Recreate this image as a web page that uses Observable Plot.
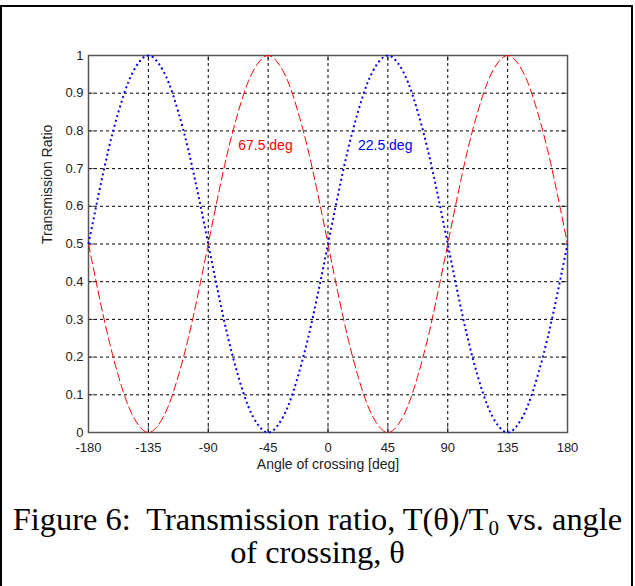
<!DOCTYPE html>
<html>
<head>
<meta charset="utf-8">
<script src="https://cdn.jsdelivr.net/npm/d3@7"></script>
<script src="https://cdn.jsdelivr.net/npm/@observablehq/plot@0.6"></script>
<style>
  html, body { margin: 0; padding: 0; background: #fff; }
  #wrap { position: relative; width: 635px; height: 586px; overflow: hidden; }
  #border { position: absolute; left: 0; top: 5px; width: 629px; height: 600px;
            border-top: 2px solid #000; border-left: 2px solid #000; border-right: 2px solid #000; }
  #chart { position: absolute; left: 0; top: 0; }
  #caption { position: absolute; left: 0; top: 503px; width: 635px; text-align: center;
             font-family: "Liberation Serif", "Times New Roman", serif; font-size: 32.4px;
             line-height: 33px; color: #000; white-space: nowrap; }
  #caption sub { font-size: 21px; vertical-align: -5px; line-height: 0; }
</style>
</head>
<body>
<div id="wrap">
  <div id="border"></div>
  <div id="chart"></div>
  <div id="caption">Figure 6:&nbsp; Transmission ratio, T(θ)/T<sub>0</sub> vs. angle<br>of crossing, θ</div>
</div>
<script>
const angles = [-180,-172.5,-165,-157.5,-150,-142.5,-135,-127.5,-120,-112.5,-105,-97.5,-90,-82.5,-75,-67.5,-60,-52.5,-45,-37.5,-30,-22.5,-15,-7.5,0,7.5,15,22.5,30,37.5,45,52.5,60,67.5,75,82.5,90,97.5,105,112.5,120,127.5,135,142.5,150,157.5,165,172.5,180];
const red67 = [0.5,0.37,0.25,0.15,0.07,0.02,0,0.02,0.07,0.15,0.25,0.37,0.5,0.63,0.75,0.85,0.93,0.98,1,0.98,0.93,0.85,0.75,0.63,0.5,0.37,0.25,0.15,0.07,0.02,0,0.02,0.07,0.15,0.25,0.37,0.5,0.63,0.75,0.85,0.93,0.98,1,0.98,0.93,0.85,0.75,0.63,0.5];
const blue22 = [0.5,0.63,0.75,0.85,0.93,0.98,1,0.98,0.93,0.85,0.75,0.63,0.5,0.37,0.25,0.15,0.07,0.02,0,0.02,0.07,0.15,0.25,0.37,0.5,0.63,0.75,0.85,0.93,0.98,1,0.98,0.93,0.85,0.75,0.63,0.5,0.37,0.25,0.15,0.07,0.02,0,0.02,0.07,0.15,0.25,0.37,0.5];
const xTicks = [-180,-135,-90,-45,0,45,90,135,180];
const yTicks = [0,0.1,0.2,0.3,0.4,0.5,0.6,0.7,0.8,0.9,1];
const labels = [
  {x: -67.5, y: 0.76, text: "67.5 deg", color: "#ff0000"},
  {x: 22.5, y: 0.76, text: "22.5 deg", color: "#0000ff"}
];

const redData = angles.map((a, i) => ({x: a, y: red67[i]}));
const blueData = angles.map((a, i) => ({x: a, y: blue22[i]}));

const W = 635, H = 480;
const mL = 88, mR = 68, mT = 55, mB = 48;
const tickLenX = 6 / (H - mT - mB);
const tickLenY = 6 / (W - mL - mR) * 360;

const chart = Plot.plot({
  width: W, height: H,
  marginLeft: mL, marginRight: mR, marginTop: mT, marginBottom: mB,
  style: {fontFamily: "Liberation Sans, Arial, sans-serif", background: "transparent"},
  x: {domain: [-180, 180]},
  y: {domain: [0, 1]},
  marks: [
    Plot.ruleX(xTicks, {y1: 0, y2: tickLenX, stroke: "#555", strokeWidth: 1}),
    Plot.ruleX(xTicks, {y1: 1, y2: 1 - tickLenX, stroke: "#555", strokeWidth: 1}),
    Plot.ruleY(yTicks, {x1: -180, x2: -180 + tickLenY, stroke: "#555", strokeWidth: 1}),
    Plot.ruleY(yTicks, {x1: 180, x2: 180 - tickLenY, stroke: "#555", strokeWidth: 1}),
    Plot.ruleX(xTicks.slice(1, -1), {y1: 0, y2: 1, stroke: "#000", strokeWidth: 1, strokeDasharray: "3,3"}),
    Plot.ruleY(yTicks.slice(1, -1), {x1: -180, x2: 180, stroke: "#000", strokeWidth: 1, strokeDasharray: "3,3"}),
    Plot.frame({stroke: "#555", strokeWidth: 1.5}),
    Plot.line(redData, {x: "x", y: "y", curve: "natural", stroke: "#ff0000", strokeWidth: 1, strokeDasharray: "8,4"}),
    Plot.line(blueData, {x: "x", y: "y", curve: "natural", stroke: "#0000ff", strokeWidth: 2, strokeDasharray: "2,3", strokeLinecap: "butt"}),
    Plot.text(labels, {x: "x", y: "y", text: "text", fill: "color", textAnchor: "start", fontSize: 14, lineAnchor: "middle"}),
    Plot.axisX(xTicks, {tickSize: 0, tickPadding: 10, fontSize: 13, color: "#222", label: null, tickFormat: d => String(d)}),
    Plot.axisY(yTicks, {tickSize: 0, tickPadding: 5, fontSize: 13, color: "#222", label: null, tickFormat: d => String(d)}),
    Plot.text(["Angle of crossing [deg]"], {frameAnchor: "bottom", dy: 32, fontSize: 14, fill: "#222", lineAnchor: "middle"}),
    Plot.text(["Transmission Ratio"], {frameAnchor: "left", dx: -41, rotate: -90, fontSize: 14, fill: "#222", lineAnchor: "middle"})
  ]
});
document.getElementById("chart").appendChild(chart);
</script>
</body>
</html>
